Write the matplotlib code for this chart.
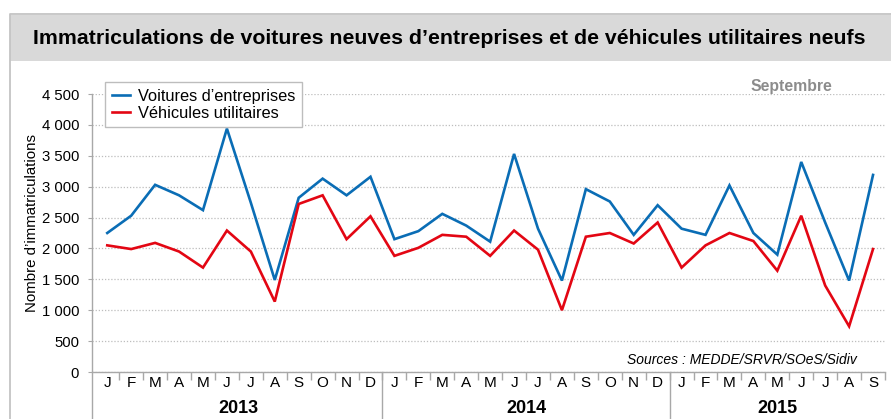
import matplotlib
matplotlib.use('Agg')
import matplotlib.pyplot as plt
from matplotlib import rcParams
from matplotlib.patches import Rectangle
from matplotlib.lines import Line2D
import matplotlib.transforms as mtrans

rcParams['font.family'] = ['Liberation Sans', 'DejaVu Sans']

# monthly registrations, Jan 2013 -> Sep 2015
months = ['J', 'F', 'M', 'A', 'M', 'J', 'J', 'A', 'S', 'O', 'N', 'D'] * 2 + \
         ['J', 'F', 'M', 'A', 'M', 'J', 'J', 'A', 'S']
years = ['2013', '2014', '2015']
voitures = [2250, 2530, 3030, 2860, 2620, 3940, 2740, 1490, 2820, 3130, 2860, 3160,
            2150, 2280, 2560, 2370, 2110, 3530, 2320, 1480, 2960, 2760, 2220, 2700,
            2320, 2220, 3020, 2250, 1900, 3400, 2420, 1480, 3190]
utilitaires = [2050, 1990, 2090, 1950, 1690, 2290, 1950, 1140, 2720, 2860, 2150, 2520,
               1880, 2010, 2220, 2190, 1880, 2290, 1980, 1000, 2190, 2250, 2080, 2420,
               1690, 2050, 2250, 2120, 1640, 2530, 1400, 740, 1990]
y_ticks = [0, 500, 1000, 1500, 2000, 2500, 3000, 3500, 4000, 4500]
y_labels = ['0', '500', '1 000', '1 500', '2 000', '2 500', '3 000', '3 500', '4 000', '4 500']

W, H = 891, 419
BLUE = '#0a6db5'
RED = '#e30613'
GREY = '#a8a8a8'

fig = plt.figure(figsize=(W / 100, H / 100), dpi=100)
ax = fig.add_axes([91.7 / W, (H - 372) / H, (885 - 91.7) / W, 278 / H])

# frame and title band
fig.add_artist(Rectangle((10 / W, (H - 61) / H), 1, 46 / H, transform=fig.transFigure,
                         facecolor='#d9d9d9', edgecolor='none'))
fig.add_artist(Line2D([9.5 / W, 9.5 / W, 1], [0, (H - 14.5) / H, (H - 14.5) / H],
                      transform=fig.transFigure, color='#c4c4c4', lw=1.3))
fig.text(449 / W, (H - 39) / H,
         'Immatriculations de voitures neuves d\u2019entreprises et de v\u00e9hicules utilitaires neufs',
         fontweight='bold', fontsize=15.3, ha='center', va='center')

x = list(range(len(months)))
ax.plot(x, voitures, color=BLUE, lw=1.9, label='Voitures d\u2019entreprises',
        solid_joinstyle='miter')
ax.plot(x, utilitaires, color=RED, lw=1.9, label='V\u00e9hicules utilitaires',
        solid_joinstyle='miter')

ax.set_xlim(-0.65, len(months) - 0.5)
ax.set_ylim(0, 4500)
for s in ['top', 'right', 'left']:
    ax.spines[s].set_visible(False)
ax.spines['bottom'].set_color(GREY)
ax.spines['bottom'].set_linewidth(1)

ax.set_yticks(y_ticks)
ax.set_yticklabels(y_labels, fontsize=10.7)
ax.tick_params(axis='y', length=3, color=GREY, pad=6)
ax.yaxis.grid(True, linestyle=(0, (1, 1.5)), color='#bdbdbd', lw=0.9)
ax.set_axisbelow(True)

# months as labels, separators as minor ticks
ax.set_xticks(x)
ax.set_xticklabels(months, fontsize=11)
ax.set_xticks([i + 0.5 for i in x], minor=True)
ax.tick_params(axis='x', which='major', length=0, pad=3)
ax.tick_params(axis='x', which='minor', length=6, color=GREY, width=1)

trans = mtrans.blended_transform_factory(ax.transData, ax.transAxes)
ax.plot([-0.65, -0.65], [-0.17, 1], transform=trans, color=GREY, lw=1, clip_on=False)
for b in [11.5, 23.5]:
    ax.plot([b, b], [-0.17, 0], transform=trans, color=GREY, lw=1, clip_on=False)
for yr, c in zip(years, [5.5, 17.5, 28]):
    ax.text(c, -0.13, yr, transform=trans, ha='center', va='center',
            fontsize=13, fontweight='bold')

fig.text(32 / W, (H - 223) / H, 'Nombre d\u2019immatriculations', rotation=90,
         ha='center', va='center', fontsize=10.8)

ax.text(857 / W, (H - 360) / H, 'Sources : MEDDE/SRVR/SOeS/Sidiv', transform=fig.transFigure,
        ha='right', va='center', fontsize=10, style='italic')
fig.text(791 / W, (H - 87) / H, 'Septembre', fontweight='bold',
         fontsize=11.3, color='#8c8c8c', ha='center', va='center')

leg = ax.legend(loc='upper left', bbox_to_anchor=(105 / W, (H - 82) / H),
                bbox_transform=fig.transFigure, borderaxespad=0, fancybox=False,
                fontsize=11.8, handlelength=1.1, handletextpad=0.5, labelspacing=0.12,
                borderpad=0.4, framealpha=1)
leg.get_frame().set_edgecolor('#bdbdbd')
leg.get_frame().set_linewidth(1)

fig.savefig('out.png', dpi=100)
